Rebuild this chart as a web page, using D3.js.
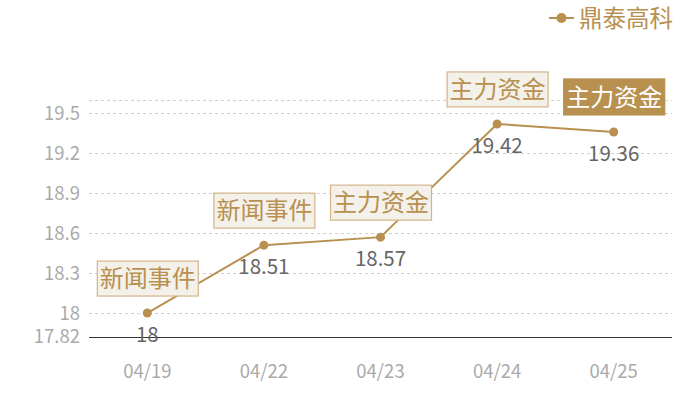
<!DOCTYPE html>
<html>
<head>
<meta charset="utf-8">
<script src="https://cdn.jsdelivr.net/npm/d3@7"></script>
<style>
  body { margin: 0; background: #fff; }
  text { font-family: "Noto Sans CJK SC", "Noto Sans", sans-serif; }
</style>
</head>
<body>
<div id="chart"></div>
<script>
const dates = ["04/19", "04/22", "04/23", "04/24", "04/25"];
const prices = [18, 18.51, 18.57, 19.42, 19.36];
const events = ["新闻事件", "新闻事件", "主力资金", "主力资金", "主力资金"];
const yTicks = [17.82, 18, 18.3, 18.6, 18.9, 19.2, 19.5, 19.6];
const seriesName = "鼎泰高科";

const width = 700;
const height = 400;
const margin = { top: 100, right: 28, bottom: 63, left: 89 };
const gold = "#b8904f";

const svg = d3.select("#chart")
    .append("svg")
    .attr("width", width)
    .attr("height", height);

const x = d3.scaleBand()
    .domain(dates)
    .range([margin.left, width - margin.right]);

const y = d3.scaleLinear()
    .domain([17.82, 19.6])
    .range([height - margin.bottom, margin.top]);

const cx = (d) => x(d) + x.bandwidth() / 2;
const crisp = (v) => Math.round(v) + 0.5;

// grid
svg.append("g")
    .selectAll("line")
    .data(yTicks.slice(1))
    .join("line")
    .attr("x1", margin.left)
    .attr("x2", width - margin.right)
    .attr("y1", (d) => crisp(y(d)))
    .attr("y2", (d) => crisp(y(d)))
    .attr("stroke", "#d0d0d0")
    .attr("stroke-dasharray", "3,3");

// y labels (last tick has no label)
svg.append("g")
    .selectAll("text")
    .data(yTicks.slice(0, -1))
    .join("text")
    .attr("x", 80)
    .attr("y", (d) => y(d))
    .attr("dy", "0.35em")
    .attr("text-anchor", "end")
    .attr("fill", "#aaa")
    .attr("font-size", 18.5)
    .text((d) => d);

// x axis
svg.append("line")
    .attr("x1", margin.left)
    .attr("x2", width - margin.right)
    .attr("y1", crisp(y(17.82)))
    .attr("y2", crisp(y(17.82)))
    .attr("stroke", "#333");

svg.append("g")
    .selectAll("text")
    .data(dates)
    .join("text")
    .attr("x", cx)
    .attr("y", 378)
    .attr("text-anchor", "middle")
    .attr("fill", "#aaa")
    .attr("font-size", 18.5)
    .text((d) => d);

// line
const pts = dates.map((d, i) => ({ date: d, v: prices[i], ev: events[i], last: i === dates.length - 1 }));

svg.append("path")
    .datum(pts)
    .attr("fill", "none")
    .attr("stroke", gold)
    .attr("stroke-width", 2)
    .attr("d", d3.line().x((d) => cx(d.date)).y((d) => y(d.v)));

svg.append("g")
    .selectAll("circle")
    .data(pts)
    .join("circle")
    .attr("cx", (d) => cx(d.date))
    .attr("cy", (d) => y(d.v))
    .attr("r", 4.5)
    .attr("fill", gold);

// value labels
svg.append("g")
    .selectAll("text")
    .data(pts)
    .join("text")
    .attr("x", (d) => cx(d.date))
    .attr("y", (d) => y(d.v) + 29)
    .attr("text-anchor", "middle")
    .attr("fill", "#666")
    .attr("font-size", 20.5)
    .text((d) => d.v);

// event labels
const ev = svg.append("g")
    .selectAll("g")
    .data(pts)
    .join("g")
    .attr("transform", (d) => `translate(${cx(d.date)},${y(d.v) - 17})`);

ev.append("rect")
    .attr("x", -50)
    .attr("y", (d) => d.last ? -36 : -35)
    .attr("width", 101)
    .attr("height", (d) => d.last ? 36 : 35)
    .attr("fill", (d) => d.last ? gold : "#f4f0ea")
    .attr("stroke", (d) => d.last ? gold : "#d3b488")
    .attr("stroke-width", 1.2);

ev.append("text")
    .attr("x", 0.5)
    .attr("y", (d) => d.last ? -18 : -17.5)
    .attr("dy", "0.36em")
    .attr("text-anchor", "middle")
    .attr("fill", (d) => d.last ? "#fff" : gold)
    .attr("font-size", 24)
    .text((d) => d.ev);

// legend
const lg = svg.append("g").attr("transform", "translate(549,18)");
lg.append("line").attr("x1", 0).attr("x2", 25).attr("stroke", gold).attr("stroke-width", 2);
lg.append("circle").attr("cx", 12.5).attr("r", 5).attr("fill", gold);
lg.append("text")
    .attr("x", 30)
    .attr("y", 1)
    .attr("dy", "0.36em")
    .attr("fill", gold)
    .attr("font-size", 23.5)
    .text(seriesName);
</script>
</body>
</html>
